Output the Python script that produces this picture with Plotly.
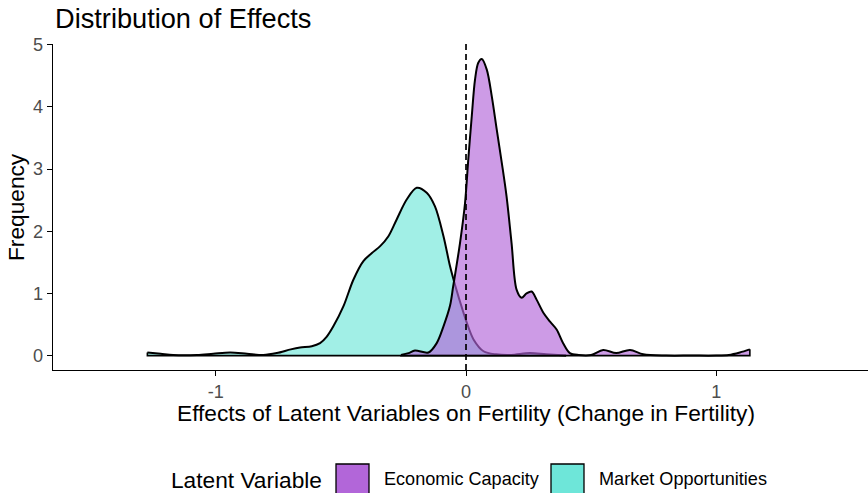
import plotly.graph_objects as go

# Market Opportunities density (x, density)
mo_x = [-1.273, -1.22, -1.17, -1.075, -1.01, -0.942, -0.875, -0.81, -0.756, -0.70,
        -0.663, -0.616, -0.583, -0.557, -0.53, -0.49, -0.45, -0.41, -0.376, -0.343,
        -0.31, -0.277, -0.237, -0.197, -0.157, -0.124, -0.09, -0.064, -0.044, -0.011,
        0.003, 0.03, 0.07, 0.12, 0.18, 0.255, 0.32, 0.40]
mo_y = [0.05, 0.03, 0.01, 0.01, 0.03, 0.05, 0.03, 0.01, 0.04, 0.10,
        0.13, 0.15, 0.20, 0.30, 0.47, 0.79, 1.22, 1.52, 1.65, 1.76,
        1.92, 2.19, 2.51, 2.70, 2.62, 2.40, 1.92, 1.44, 1.14, 0.70,
        0.53, 0.26, 0.07, 0.02, 0.01, 0.04, 0.02, 0.0]

# Economic Capacity density (x, density)
ec_x = [-0.26, -0.23, -0.204, -0.15, -0.117, -0.09, -0.064, -0.051, -0.024, -0.004,
        0.009, 0.023, 0.036, 0.049, 0.063, 0.083, 0.103, 0.123, 0.143, 0.162,
        0.182, 0.202, 0.222, 0.242, 0.262, 0.282, 0.309, 0.335, 0.362, 0.388,
        0.415, 0.45, 0.50, 0.548, 0.60, 0.655, 0.708, 0.80, 0.90, 1.00,
        1.05, 1.094, 1.134]
ec_y = [0.01, 0.04, 0.08, 0.05, 0.20, 0.47, 0.80, 1.12, 1.81, 2.45,
        3.15, 3.85, 4.44, 4.71, 4.77, 4.60, 4.17, 3.63, 3.10, 2.56,
        1.81, 1.06, 0.93, 1.00, 1.03, 0.90, 0.69, 0.55, 0.42, 0.20,
        0.04, 0.01, 0.01, 0.09, 0.04, 0.09, 0.02, 0.0, 0.0, 0.0,
        0.01, 0.05, 0.10]

x_ticks = [-1, 0, 1]
y_ticks = [0, 1, 2, 3, 4, 5]

series = [
    ("Market Opportunities", mo_x, mo_y, "rgba(110,230,217,0.65)"),
    ("Economic Capacity", ec_x, ec_y, "rgba(178,102,217,0.65)"),
]
legend_items = [("Economic Capacity", "#B266D9"), ("Market Opportunities", "#6EE6D9")]

# plot-area geometry in pixels
FW, FH = 868, 493
L, T, B, R = 53, 44, 123, 0
PW, PH = FW - L - R, FH - T - B


def px(xp):
    return (xp - L) / PW


def py(yp):
    return (FH - B - yp) / PH


fig = go.Figure()
for name, xs, ys, col in series:
    fig.add_trace(go.Scatter(
        x=xs, y=ys, mode="lines", fill="tozeroy", fillcolor=col,
        line=dict(color="black", width=2, shape="spline", smoothing=0.9),
        showlegend=False, hoverinfo="skip", name=name))
    fig.add_trace(go.Scatter(
        x=[xs[0], xs[0], xs[-1], xs[-1]], y=[ys[0], 0, 0, ys[-1]],
        mode="lines", line=dict(color="black", width=1.6),
        showlegend=False, hoverinfo="skip"))

shapes = [dict(type="line", x0=0, x1=0, xref="x", yref="paper", y0=0, y1=1,
               line=dict(color="black", width=1.7, dash="6px,4px"))]

font_family = "Liberation Sans, Arial, sans-serif"
annotations = [
    dict(text="Effects of Latent Variables on Fertility (Change in Fertility)",
         xref="paper", yref="paper", x=px(466), y=py(413),
         xanchor="center", yanchor="middle", showarrow=False,
         font=dict(size=22.7, color="black")),
    dict(text="Frequency", xref="paper", yref="paper", x=px(16), y=py(207),
         xanchor="center", yanchor="middle", textangle=-90, showarrow=False,
         font=dict(size=22.7, color="black")),
    dict(text="Latent Variable", xref="paper", yref="paper", x=px(169), y=py(480),
         xanchor="left", yanchor="middle", showarrow=False,
         font=dict(size=22.7, color="black")),
]

# manual legend (keys + labels)
key_left = [336, 551]
text_left = [382, 597]
for (name, col), kl, tl in zip(legend_items, key_left, text_left):
    shapes.append(dict(type="rect", xref="paper", yref="paper",
                       x0=px(kl), x1=px(kl + 33), y0=py(464), y1=py(496),
                       fillcolor=col, line=dict(color="black", width=1.3)))
    annotations.append(dict(text=name, xref="paper", yref="paper", x=px(tl), y=py(479),
                            xanchor="left", yanchor="middle", showarrow=False,
                            font=dict(size=18.1, color="black")))

fig.update_layout(
    width=FW, height=FH,
    margin=dict(l=L, r=R, t=T, b=B),
    plot_bgcolor="white", paper_bgcolor="white",
    showlegend=False,
    font=dict(family=font_family, color="black"),
    title=dict(text="Distribution of Effects", font=dict(size=27.2, color="black"),
               xref="container", x=55/FW, xanchor="left",
               yref="container", y=1-18/FH, yanchor="middle"),
    xaxis=dict(range=[-1.650, 1.606], tickvals=x_ticks, ticktext=[str(v) for v in x_ticks],
               showgrid=False, zeroline=False, showline=True, linecolor="black",
               linewidth=1.4, ticks="outside", ticklen=5, tickcolor="black", tickwidth=1.3,
               tickfont=dict(size=18.1, color="#4D4D4D"), automargin=False),
    yaxis=dict(range=[-0.232, 5.012], tickvals=y_ticks,
               showgrid=False, zeroline=False, showline=True, linecolor="black",
               linewidth=1.4, ticks="outside", ticklen=5, tickcolor="black", tickwidth=1.3,
               tickfont=dict(size=18.1, color="#4D4D4D"), automargin=False),
    shapes=shapes,
    annotations=annotations,
)

fig.write_html("out.html",
               config={"displayModeBar": False},
               post_script="document.body.style.margin='0px';"
                           "document.body.style.overflow='hidden';")
